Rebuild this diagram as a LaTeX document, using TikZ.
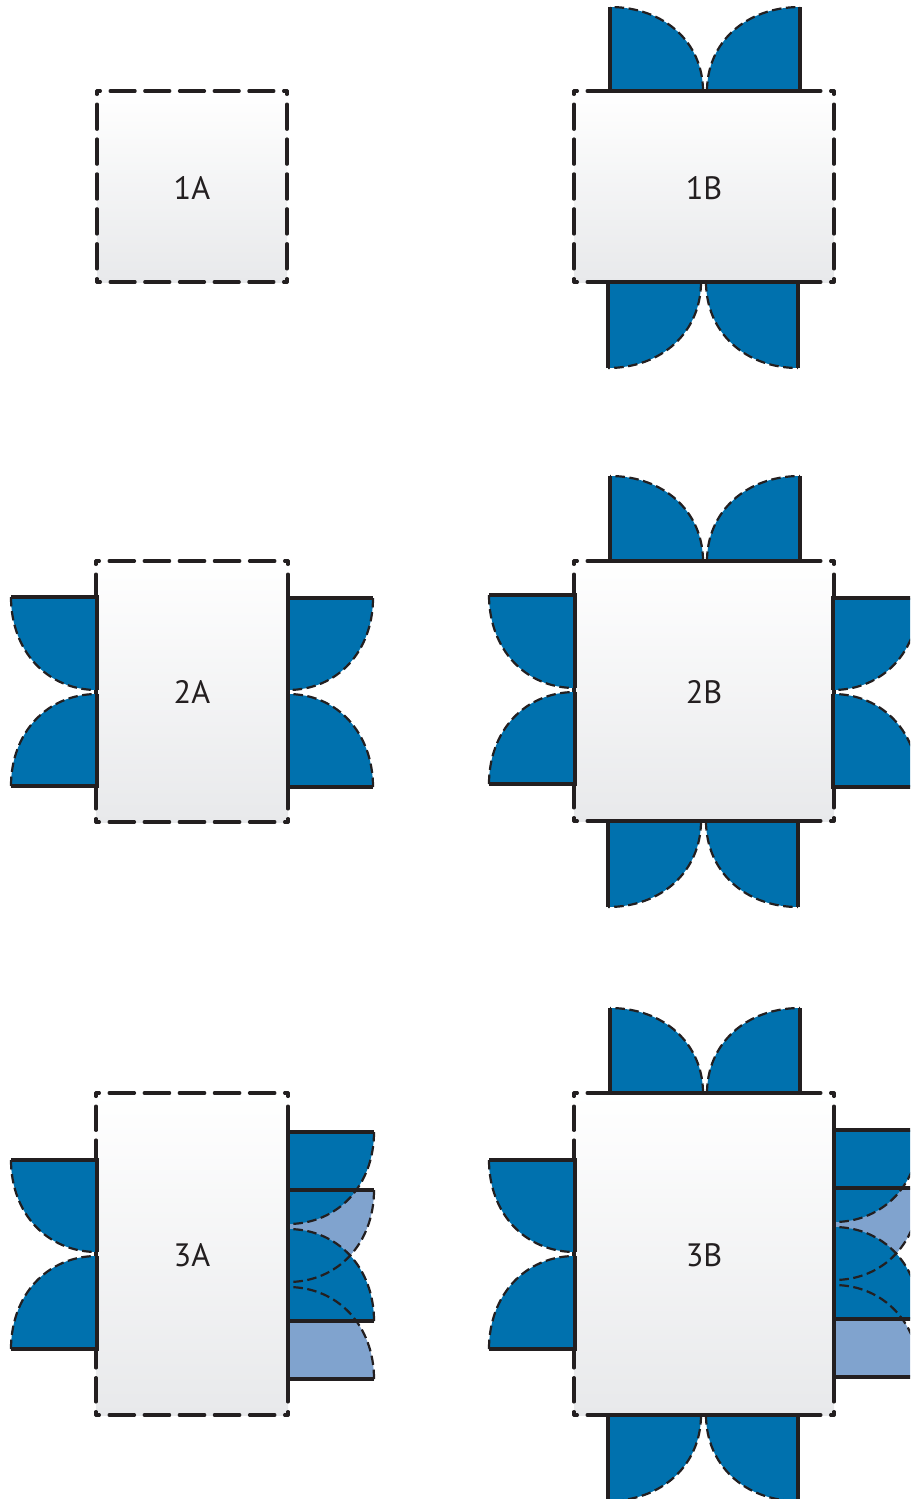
\documentclass[tikz,border=0pt]{standalone}
\usepackage{fontspec}
\setmainfont{PT Sans}
\definecolor{doorBlue}{RGB}{0,113,174}
\definecolor{doorLight}{RGB}{128,163,206}
\definecolor{roomGray}{RGB}{232,233,235}
\definecolor{lineDark}{RGB}{35,31,32}
\tikzset{
  roomshade/.style={top color=white, bottom color=roomGray},
  roomside/.style={draw=lineDark, line width=0.32mm, line cap=round},
  roomlabel/.style={text=lineDark, font=\fontsize{9.2}{11}\selectfont},
  doorside/.style={draw=lineDark, line width=0.32mm, line join=miter},
  doorswing/.style={draw=lineDark, line width=0.22mm, dash pattern=on 0.95mm off 0.45mm}
}
% one wall: corner to corner, dashes fitted to its length (0.1mm units)
\newcommand{\wall}[4]{
  \pgfmathsetmacro\walllen{abs(#3-#1)+abs(#4-#2)}
  \pgfmathsetmacro\wallgaps{round((\walllen-16.5)/35)}
  \pgfmathsetmacro\wallon{((\walllen-16.5)/\wallgaps-9.7)/10}
  \pgfmathsetmacro\wallphase{\wallon-0.34}
  \draw[roomside, dash pattern=on \wallon mm off 0.97mm, dash phase=\wallphase mm] (#1,#2) -- (#3,#4);}
\newcommand{\room}[4]{
  \shade[roomshade] (#1,#2) rectangle (#3,#4);
  \wall{#1}{#2}{#3}{#2}
  \wall{#3}{#2}{#3}{#4}
  \wall{#1}{#4}{#3}{#4}
  \wall{#1}{#2}{#1}{#4}}
% corner x, corner y, width along x, width along y
\newcommand{\leaffill}[5]{\fill[#1] ({#2},{#3+#5}) -- (#2,#3) -- ({#2+#4},#3)
  .. controls +(0,{0.58*#5}) and +({0.58*#4},0) .. ({#2},{#3+#5}) -- cycle;}
\newcommand{\leafline}[4]{
  \draw[doorside] ({#1},{#2+#4}) -- (#1,#2) -- ({#1+#3},#2);
  \draw[doorswing] ({#1+#3},#2) .. controls +(0,{0.58*#4}) and +({0.58*#3},0) .. ({#1},{#2+#4});}
\newcommand{\leaf}[4]{\leaffill{doorBlue}{#1}{#2}{#3}{#4}\leafline{#1}{#2}{#3}{#4}}
\begin{document}
\begin{tikzpicture}[x=0.1mm, y=-0.1mm]
  \clip (0,0) rectangle (910,1499);

  % Room 1A
  \room{97}{91}{287}{282}
  \node[roomlabel] (r1a) at (192,188) {1A};

  % Room 1B
  \room{574}{91}{834}{282}
  \node[roomlabel] (r1b) at (704,188) {1B};
  \leaf{610}{91}{93}{-84}
  \leaf{800}{91}{-93}{-84}
  \leaf{608}{282}{93}{86}
  \leaf{798}{282}{-92}{86}

  % Room 2A
  \room{96}{561}{288}{822}
  \node[roomlabel] (r2a) at (192,692) {2A};
  \leaf{97}{597}{-86}{93}
  \leaf{97}{786}{-86}{-92}
  \leaf{288}{598}{85}{92}
  \leaf{288}{787}{85}{-93}

  % Room 2B
  \room{574}{561}{834}{821}
  \node[roomlabel] (r2b) at (704,692) {2B};
  \leaf{610}{561}{93}{-85}
  \leaf{800}{561}{-93}{-85}
  \leaf{575}{595}{-86}{93}
  \leaf{575}{784}{-86}{-92}
  \leaf{833}{598}{86}{92}
  \leaf{833}{787}{86}{-93}
  \leaf{608}{821}{93}{86}
  \leaf{798}{821}{-92}{86}

  % Room 3A
  \room{96}{1093}{288}{1415}
  \node[roomlabel] (r3a) at (192,1255) {3A};
  \leaf{97}{1160}{-86}{92}
  \leaf{97}{1349}{-86}{-93}
  \leaffill{doorLight}{288}{1190}{86}{92}
  \leaffill{doorLight}{288}{1379}{86}{-92}
  \leaffill{doorBlue}{288}{1132}{86}{92}
  \leaffill{doorBlue}{288}{1321}{86}{-92}
  \foreach \ytop/\ylen in {1132/92,1190/92,1321/-92,1379/-92}
    \leafline{288}{\ytop}{86}{\ylen};

  % Room 3B
  \room{574}{1093}{834}{1415}
  \node[roomlabel] (r3b) at (704,1255) {3B};
  \leaf{610}{1093}{93}{-85}
  \leaf{800}{1093}{-93}{-85}
  \leaf{575}{1160}{-86}{92}
  \leaf{575}{1349}{-86}{-93}
  \leaffill{doorLight}{834}{1188}{86}{92}
  \leaffill{doorLight}{834}{1377}{86}{-92}
  \leaffill{doorBlue}{834}{1130}{86}{92}
  \leaffill{doorBlue}{834}{1319}{86}{-92}
  \foreach \ytop/\ylen in {1130/92,1188/92,1319/-92,1377/-92}
    \leafline{834}{\ytop}{86}{\ylen};
  \leaf{608}{1415}{93}{86}
  \leaf{798}{1415}{-92}{86}
\end{tikzpicture}
\end{document}
